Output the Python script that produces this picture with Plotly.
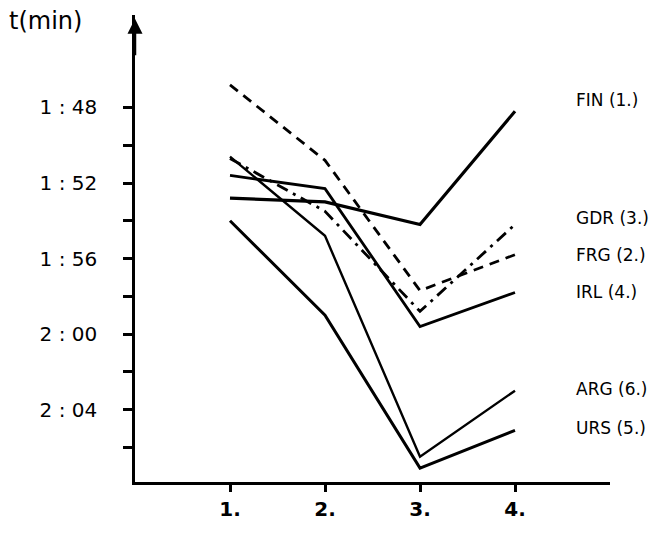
import plotly.graph_objects as go

# Data (times in seconds)
legs = [1, 2, 3, 4]
leg_labels = ["<b>1.</b>", "<b>2.</b>", "<b>3.</b>", "<b>4.</b>"]
teams = ["FIN", "FRG", "GDR", "IRL", "ARG", "URS"]
ranks = ["1.", "2.", "3.", "4.", "6.", "5."]
fin = [112.8, 113.0, 114.2, 108.2]
frg = [106.8, 110.8, 117.7, 115.8]
gdr = [110.7, 113.5, 118.8, 114.2]
irl = [111.6, 112.3, 119.6, 117.8]
arg = [110.6, 114.8, 126.5, 123.0]
urs = [114.0, 119.0, 127.1, 125.1]
ytick_vals = [108, 110, 112, 114, 116, 118, 120, 122, 124, 126]
ytick_text = ["1 : 48", "", "1 : 52", "", "1 : 56", "", "2 : 00", "", "2 : 04", ""]

series = [fin, frg, gdr, irl, arg, urs]
styles = {
    "FIN": dict(width=3.2, dash="solid"),
    "FRG": dict(width=2.8, dash="10px,7px"),
    "GDR": dict(width=2.8, dash="12px,6px,3px,6px"),
    "IRL": dict(width=2.8, dash="solid"),
    "ARG": dict(width=2.4, dash="solid"),
    "URS": dict(width=3.0, dash="solid"),
}
label_shift = {"FIN": 11, "FRG": 0, "GDR": 7, "IRL": 0, "ARG": 2, "URS": 2}

FONT = "DejaVu Sans"
fig = go.Figure()
for name, vals in zip(teams, series):
    st = styles[name]
    fig.add_trace(go.Scatter(x=legs, y=vals, mode="lines", name=name,
                             line=dict(color="black", width=st["width"], dash=st["dash"])))

for name, rank, vals in zip(teams, ranks, series):
    fig.add_annotation(x=4.62, y=vals[-1], xref="x", yref="y", text=f"{name} ({rank})",
                       showarrow=False, xanchor="left", yanchor="middle", yshift=label_shift[name],
                       font=dict(family=FONT, size=17, color="black"))

# axis arrow
fig.add_annotation(x=0, y=103.3, xref="x", yref="y", ax=0, ay=38, showarrow=True,
                   arrowhead=2, arrowsize=1.2, arrowwidth=2.5, arrowcolor="black", text="")
fig.add_annotation(x=-0.27, y=1.0, xref="paper", yref="paper", text="t(min)", showarrow=False,
                   xanchor="left", yanchor="top", yshift=10,
                   font=dict(family=FONT, size=24, color="black"))

fig.update_xaxes(range=[0, 5], tickvals=legs, ticktext=leg_labels, showline=True,
                 linewidth=3, linecolor="black", ticks="outside", ticklen=7, tickwidth=3,
                 tickcolor="black", showgrid=False, zeroline=False,
                 tickfont=dict(family=FONT, size=20, color="black"))
fig.update_yaxes(range=[127.84, 103.1], tickvals=ytick_vals, ticktext=ytick_text,
                 showline=True, linewidth=2.5, linecolor="black", ticks="outside",
                 ticklen=9, tickwidth=2.5, tickcolor="black", showgrid=False,
                 zeroline=False, ticklabelstandoff=22,
                 tickfont=dict(family=FONT, size=20, color="black"))
fig.update_layout(width=656, height=533, margin=dict(l=135, r=46, t=15, b=48),
                  plot_bgcolor="white", paper_bgcolor="white", showlegend=False)
fig.write_html("out.html")
